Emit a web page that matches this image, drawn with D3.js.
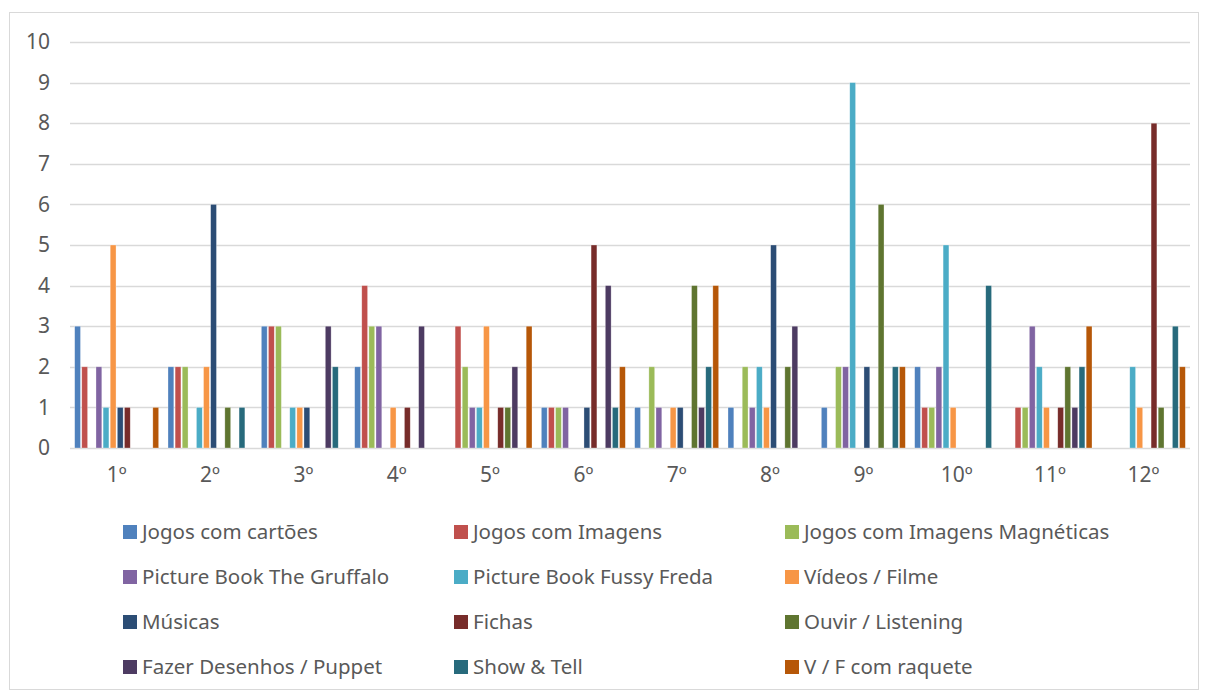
<!DOCTYPE html>
<html>
<head>
<meta charset="utf-8">
<script src="https://cdn.jsdelivr.net/npm/d3@7"></script>
<style>
  html, body { margin: 0; padding: 0; background: #fff; }
  svg { display: block; font-family: "Noto Sans", "Open Sans", sans-serif; }
</style>
</head>
<body>
<svg id="chart" width="1205" height="695"></svg>
<script>
// Lesson numbers (x categories)
const lessons = ["1º", "2º", "3º", "4º", "5º", "6º", "7º", "8º", "9º", "10º", "11º", "12º"];

// Activity series, in legend order
const activities = [
  "Jogos com cartões", "Jogos com Imagens", "Jogos com Imagens Magnéticas",
  "Picture Book The Gruffalo", "Picture Book Fussy Freda", "Vídeos / Filme",
  "Músicas", "Fichas", "Ouvir / Listening",
  "Fazer Desenhos / Puppet", "Show & Tell", "V / F com raquete"
];

// Counts per activity, one value per lesson
const jogosCartoes     = [3, 2, 3, 2, 0, 1, 1, 1, 1, 2, 0, 0];
const jogosImagens     = [2, 2, 3, 4, 3, 1, 0, 0, 0, 1, 1, 0];
const jogosMagneticas  = [0, 2, 3, 3, 2, 1, 2, 2, 2, 1, 1, 0];
const gruffalo         = [2, 0, 0, 3, 1, 1, 1, 1, 2, 2, 3, 0];
const fussyFreda       = [1, 1, 1, 0, 1, 0, 0, 2, 9, 5, 2, 2];
const videos           = [5, 2, 1, 1, 3, 0, 1, 1, 0, 1, 1, 1];
const musicas          = [1, 6, 1, 0, 0, 1, 1, 5, 2, 0, 0, 0];
const fichas           = [1, 0, 0, 1, 1, 5, 0, 0, 0, 0, 1, 8];
const ouvir            = [0, 1, 0, 0, 1, 0, 4, 2, 6, 0, 2, 1];
const desenhos         = [0, 0, 3, 3, 2, 4, 1, 3, 0, 0, 1, 0];
const showTell         = [0, 1, 2, 0, 0, 1, 2, 0, 2, 4, 2, 3];
const raquete          = [1, 0, 0, 0, 3, 2, 4, 0, 2, 0, 3, 2];

const seriesValues = [jogosCartoes, jogosImagens, jogosMagneticas, gruffalo, fussyFreda, videos,
                      musicas, fichas, ouvir, desenhos, showTell, raquete];

const yTicks = [0, 1, 2, 3, 4, 5, 6, 7, 8, 9, 10];

const colors = ["#4F81BD", "#C0504D", "#9BBB59", "#8064A2", "#4BACC6", "#F79646",
                "#2C4D75", "#772C2A", "#5F7530", "#4D3B62", "#276A7C", "#B65708"];

const svg = d3.select("#chart");

// outer frame
svg.append("rect")
  .attr("x", 9.5).attr("y", 12.5).attr("width", 1189).attr("height", 677)
  .attr("fill", "#fff").attr("stroke", "#D9D9D9").attr("stroke-width", 1);

const plot = { left: 70, right: 1190, top: 42, bottom: 448 };

const x0 = d3.scaleBand().domain(lessons).range([plot.left, plot.right]).paddingInner(0.1).paddingOuter(0.05);
const x1 = d3.scaleBand().domain(d3.range(activities.length)).range([0, x0.bandwidth()]).paddingInner(0.18);
const y = d3.scaleLinear().domain([0, 10]).range([plot.bottom, plot.top]);

// gridlines
svg.append("g").selectAll("line").data(yTicks).join("line")
  .attr("x1", plot.left).attr("x2", plot.right)
  .attr("y1", d => Math.round(y(d)) + 0.5).attr("y2", d => Math.round(y(d)) + 0.5)
  .attr("stroke", "#D9D9D9").attr("stroke-width", 1.3);

// y axis labels
const yAxis = d3.axisLeft(y).tickValues(yTicks).tickSize(0).tickPadding(0);
svg.append("g").attr("transform", `translate(${plot.left - 20},0)`).call(yAxis)
  .call(g => g.select(".domain").remove())
  .call(g => g.selectAll("text").attr("fill", "#595959").style("font-size", "21px")
    .style("font-family", "'Noto Sans', sans-serif"));

// bars
const groups = svg.append("g").selectAll("g").data(lessons).join("g")
  .attr("transform", d => `translate(${x0(d)},0)`);

groups.selectAll("rect")
  .data((d, i) => seriesValues.map((vals, s) => ({ s, v: vals[i] })))
  .join("rect")
  .attr("x", d => x1(d.s))
  .attr("width", x1.bandwidth())
  .attr("y", d => y(d.v))
  .attr("height", d => y(0) - y(d.v))
  .attr("fill", d => colors[d.s])
  .attr("stroke", "#fff").attr("stroke-opacity", 0.5).attr("stroke-width", 0.6);

// x axis labels
const xAxis = d3.axisBottom(x0).tickSize(0).tickPadding(0);
svg.append("g").attr("transform", `translate(0,${plot.bottom + 19})`).call(xAxis)
  .call(g => g.select(".domain").remove())
  .call(g => g.selectAll("text").attr("fill", "#595959").style("font-size", "21px")
    .style("font-family", "'Noto Sans', sans-serif"));

// legend: 3 columns, 4 rows
const legendCols = [123, 454, 785];
const legendRows = [532, 577, 622, 667];
const legend = svg.append("g").selectAll("g").data(activities).join("g")
  .attr("transform", (d, i) => `translate(${legendCols[i % 3]},${legendRows[Math.floor(i / 3)]})`);
legend.append("rect").attr("x", 0).attr("y", -7).attr("width", 14).attr("height", 14)
  .attr("fill", (d, i) => colors[i]);
legend.append("text").attr("x", 19).attr("y", 0).attr("dy", "0.35em")
  .attr("fill", "#595959").style("font-size", "20.5px").text(d => d);
</script>
</body>
</html>
